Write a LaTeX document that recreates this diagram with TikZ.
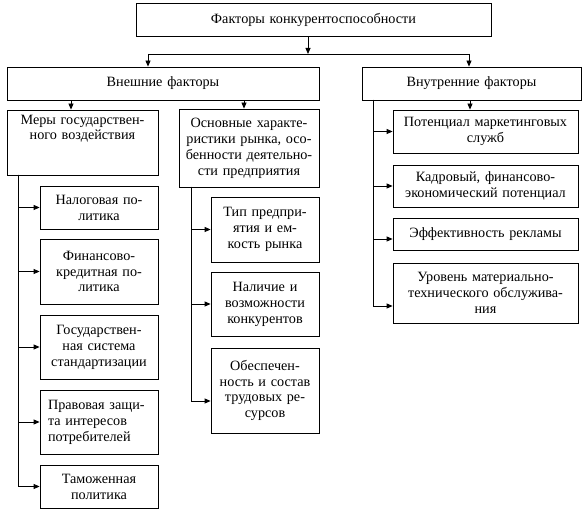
\documentclass[tikz,border=0pt]{standalone}
\usepackage{fontspec}
\setmainfont{Liberation Serif}
\usetikzlibrary{arrows.meta}
\newcommand\fs{\fontsize{14.2}{15.9}\selectfont\hyphenpenalty=10000 }
\tikzset{
  box/.style={draw=black, line width=0.8pt, rectangle, inner xsep=3pt, inner ysep=0pt, align=center, font=\fs},
  conn/.style={draw=black, line width=0.8pt},
  arr/.style={conn, -{Triangle[length=6pt,width=5pt]}},
}
% #1 options, #2 name, #3 x1, #4 y1, #5 x2, #6 y2, #7 text
\newcommand\bx[7][]{%
  \node[box, minimum width={(#5-#3)*1pt}, minimum height={(#6-#4)*1pt},
        text width=\dimexpr#5pt-#3pt-6pt\relax, #1] (#2) at ({(#3+#5)/2},{(#4+#6)/2}) {#7};}
\begin{document}
\begin{tikzpicture}[x=1pt,y=-1pt]
\useasboundingbox[fill=white] (0,0) rectangle (587,513);
% level 0
\bx{top}{136}{3}{491}{36}{Факторы конкурентоспособности}
% level 1
\bx{vnesh}{7}{67}{319}{100}{Внешние факторы}
\bx{vnutr}{362}{67}{581}{100}{Внутренние факторы}
% external: first column
\bx{mery}{7}{110}{158}{175}{}
\node[font=\fs, align=center, anchor=north, text width=145pt, inner sep=0pt] (merytxt) at ([yshift=-5pt]mery.north) {Меры государствен-\\ного воздействия};
\bx{nal}{40}{186}{158}{229}{Налоговая по-\\литика}
\bx{fin}{40}{239}{158}{304}{Финансово-\\кредитная по-\\литика}
\bx{gos}{40}{315}{158}{379}{Государствен-\\ная система\\стандартизации}
\bx[align=left, inner xsep=8pt, text width=102pt]{prav}{40}{390}{158}{454}{Правовая защи-\\та интересов\\потребителей}
\bx{tam}{40}{465}{158}{508}{Таможенная\\политика}
% external: second column
\bx{osn}{179}{109}{319}{187}{Основные характе-\\ристики рынка, осо-\\бенности деятельно-\\сти предприятия}
\bx{tip}{211}{197}{319}{262}{Тип предпри-\\ятия и ем-\\кость рынка}
\bx{nal2}{211}{272}{319}{336}{Наличие и\\возможности\\конкурентов}
\bx{obes}{211}{348}{319}{433}{Обеспечен-\\ность и состав\\трудовых ре-\\сурсов}
% internal
\bx{pot}{393}{110}{578}{153}{Потенциал маркетинговых\\служб}
\bx{kadr}{393}{165}{578}{207}{Кадровый, финансово-\\экономический потенциал}
\bx{eff}{393}{218}{578}{250}{Эффективность рекламы}
\bx{ur}{393}{263}{578}{323}{Уровень материально-\\технического обслужива-\\ния}
% connectors: top
\coordinate (hub) at (308,54);
\coordinate (hl) at (148,54);
\coordinate (hr) at (469,54);
\draw[arr] (top.south -| hub) -- (hub);
\draw[conn] (hl) -- (hr);
\draw[arr] (hl) -- (vnesh.north -| hl);
\draw[arr] (hr) -- (vnutr.north -| hr);
% external
\draw[arr] (vnesh.south -| 71,0) -- (mery.north -| 71,0);
\draw[arr] (vnesh.south -| 244,0) -- (osn.north -| 244,0);
\coordinate (mt) at (18,175);
\draw[arr] (mt) |- (nal.west);
\draw[arr] (mt) |- (fin.west);
\draw[arr] (mt) |- (gos.west);
\draw[arr] (mt) |- (prav.west);
\draw[arr] (mt) |- (tam.west);
\coordinate (ot) at (191,187);
\draw[arr] (ot) |- (tip.west);
\draw[arr] (ot) |- (nal2.west);
\draw[arr] (ot) |- (obes.west |- 0,401);
% internal
\draw[arr] (vnutr.south -| 470,0) -- (pot.north -| 470,0);
\coordinate (it) at (373,100);
\draw[arr] (it) |- (pot.west);
\draw[arr] (it) |- (kadr.west);
\draw[arr] (it) |- (eff.west |- 0,239);
\draw[arr] (it) |- (ur.west |- 0,306);
\end{tikzpicture}
\end{document}
